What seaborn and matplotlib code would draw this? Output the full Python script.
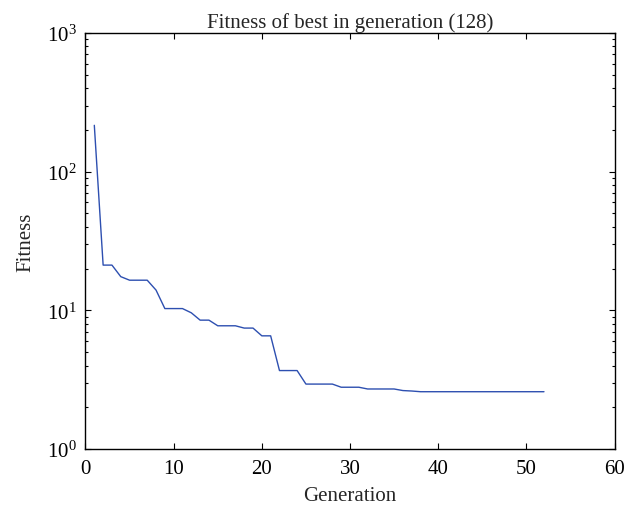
import numpy as np
import pandas as pd
import seaborn as sns
import matplotlib
matplotlib.use("Agg")
import matplotlib.pyplot as plt
from matplotlib.ticker import LogLocator, NullLocator

# data
generation = list(range(1, 53))
fitness = [216, 21.2, 21.2, 17.5, 16.5, 16.5, 16.5, 14.0, 10.3, 10.3,
           10.3, 9.6, 8.5, 8.5, 7.74, 7.74, 7.74, 7.45, 7.45, 6.55,
           6.55, 3.68, 3.68, 3.68, 2.94, 2.94, 2.94, 2.94, 2.79, 2.79,
           2.79, 2.71, 2.71, 2.71, 2.71, 2.64, 2.62] + [2.59] * 15

title = "Fitness of best in generation (128)"
x_label = "Generation"
y_label = "Fitness"

df = pd.DataFrame({"Generation": generation, "Fitness": fitness})

sns.set_theme(style="ticks")
plt.rcParams["font.family"] = ["Liberation Serif", "DejaVu Serif"]
plt.rcParams["mathtext.fontset"] = "custom"
plt.rcParams["mathtext.rm"] = "Liberation Serif"
plt.rcParams["mathtext.it"] = "Liberation Serif:italic"

fig = plt.figure(figsize=(6.39, 5.10), dpi=100)
ax = fig.add_axes([0.1338, 0.1176, 0.9617 - 0.1338, 0.9333 - 0.1176])

sns.lineplot(data=df, x="Generation", y="Fitness", ax=ax,
             color="#2d4fb0", linewidth=1.0)

ax.set_yscale("log")
ax.set_xlim(0, 60)
ax.set_ylim(1, 1000)
ax.xaxis.set_minor_locator(NullLocator())
ax.yaxis.set_minor_locator(LogLocator(base=10, subs=np.arange(2, 10)))

ax.tick_params(which="both", direction="in", top=True, right=True,
               colors="black", labelsize=15)
ax.tick_params(which="major", length=4, width=0.8)
ax.tick_params(which="minor", length=2.5, width=0.8)
ax.tick_params(axis="x", pad=7)
ax.tick_params(axis="y", pad=6.5)
for s in ax.spines.values():
    s.set_linewidth(1.0)
    s.set_color("black")

ax.set_title(title, fontsize=15, pad=4)
ax.set_xlabel(x_label, fontsize=15, labelpad=6)
ax.set_ylabel(y_label, fontsize=15, labelpad=8)

fig.savefig("out.png", dpi=100)
